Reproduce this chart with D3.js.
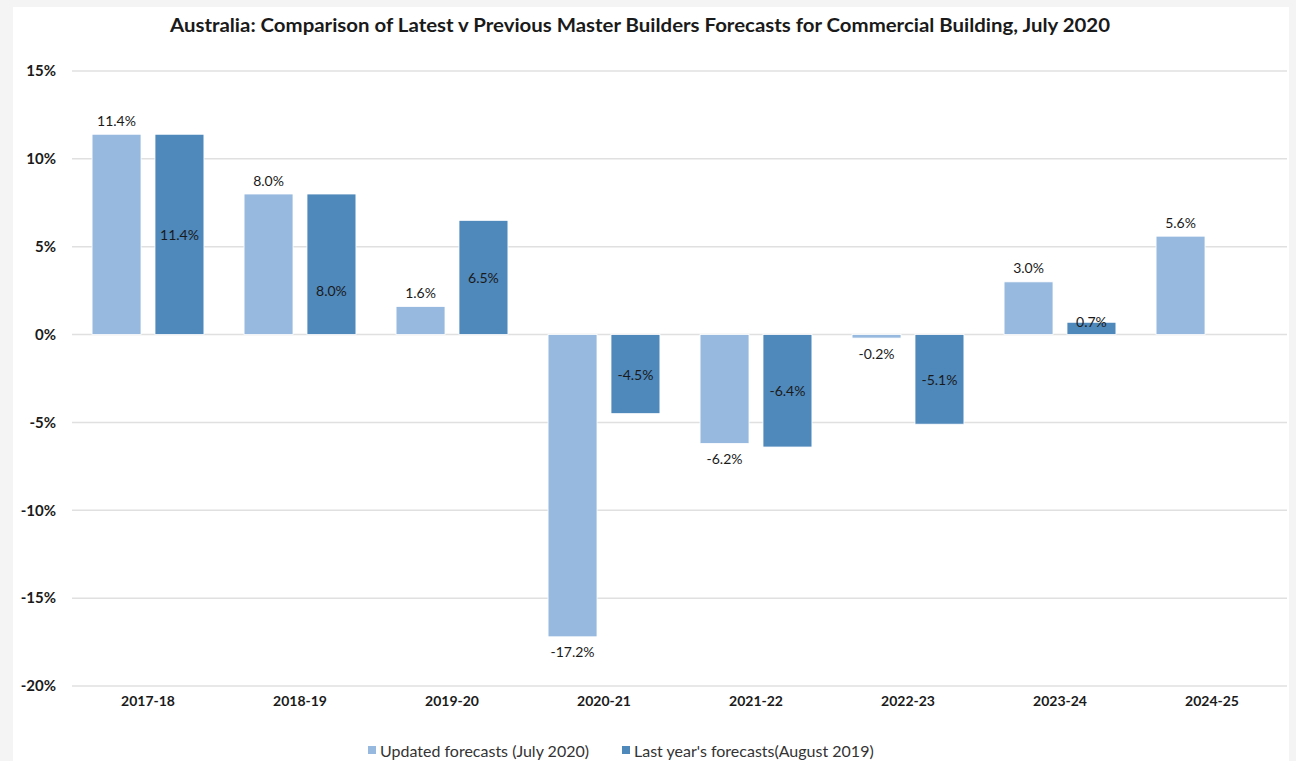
<!DOCTYPE html>
<html><head><meta charset="utf-8">
<script src="https://cdn.jsdelivr.net/npm/d3@7"></script>
<style>
html,body{margin:0;padding:0;background:#f4f4f4;}
svg{display:block;}
</style></head>
<body>
<svg id="chart" width="1296" height="761"></svg>
<script>
const categories = ["2017-18","2018-19","2019-20","2020-21","2021-22","2022-23","2023-24","2024-25"];
const updated = [11.4, 8.0, 1.6, -17.2, -6.2, -0.2, 3.0, 5.6];
const lastYear = [11.4, 8.0, 6.5, -4.5, -6.4, -5.1, 0.7, null];
const yTicks = [15, 10, 5, 0, -5, -10, -15, -20];
const seriesNames = ["Updated forecasts (July 2020)", "Last year's forecasts(August 2019)"];
const title = "Australia: Comparison of Latest v Previous Master Builders Forecasts for Commercial Building, July 2020";

const colors = ["#97b9df", "#4f88bb"];
const font = "Lato, 'Open Sans', sans-serif";

const svg = d3.select("#chart");
svg.append("rect").attr("x",13).attr("y",7).attr("width",1276).attr("height",754).attr("fill","#fff");

const x = d3.scaleBand().domain(categories).range([72, 1288]);
const y = d3.scaleLinear().domain([-20, 15]).range([686, 71]);

// gridlines
svg.append("g").selectAll("line").data(yTicks).join("line")
  .attr("x1", 72).attr("x2", 1287)
  .attr("y1", d => y(d)).attr("y2", d => y(d))
  .attr("stroke", "#e0e0e0").attr("stroke-width", 1.5);

// y axis labels
const yAxis = d3.axisLeft(y).tickValues(yTicks).tickFormat(d => d + "%").tickSize(0).tickPadding(0);
const ya = svg.append("g").attr("transform", "translate(56,0)").call(yAxis);
ya.select(".domain").remove();
ya.selectAll("text").attr("font-family", font).attr("font-weight", "bold").attr("font-size", 15).attr("fill", "#1a1a1a");

// x axis labels
const xAxis = d3.axisBottom(x).tickSize(0).tickPadding(0);
const xa = svg.append("g").attr("transform", "translate(0,696)").call(xAxis);
xa.select(".domain").remove();
xa.selectAll("text").attr("font-family", font).attr("font-weight", "bold").attr("font-size", 14).attr("fill", "#1a1a1a");

const bw = x.bandwidth();
const barW = bw * 0.322;
const gap = bw * 0.092;
const offsets = [-gap/2 - barW, gap/2];

const series = [updated, lastYear];
series.forEach((vals, si) => {
  const data = categories.map((c, i) => ({c, v: vals[i], i})).filter(d => d.v !== null);
  svg.append("g").selectAll("rect").data(data).join("rect")
    .attr("x", d => x(d.c) + bw/2 + offsets[si])
    .attr("width", barW)
    .attr("y", d => y(Math.max(0, d.v)))
    .attr("height", d => Math.abs(y(d.v) - y(0)))
    .attr("fill", colors[si])
    .attr("stroke", "#fff").attr("stroke-width", 0.8);

  const lbl = svg.append("g").selectAll("text").data(data).join("text")
    .attr("x", d => x(d.c) + bw/2 + offsets[si] + barW/2)
    .attr("text-anchor", "middle")
    .attr("dominant-baseline", "central")
    .attr("font-family", font).attr("font-size", 14).attr("fill", "#1a1a1a")
    .text(d => d.v.toFixed(1) + "%");
  if (si === 0) {
    lbl.attr("y", d => d.v >= 0 ? y(d.v) - 14 : y(d.v) + 15);
  } else {
    const nudge = {1: 26, 6: -7};
    lbl.attr("y", d => (y(d.v) + y(0)) / 2 + (nudge[d.i] || 0));
  }
});

// title
svg.append("text").attr("x", 640).attr("y", 24)
  .attr("text-anchor", "middle").attr("dominant-baseline", "central")
  .attr("font-family", font).attr("font-weight", "bold").attr("font-size", 19).attr("fill", "#1a1a1a")
  .attr("textLength", 940).attr("lengthAdjust", "spacingAndGlyphs")
  .text(title);

// legend
const legX = [368, 622];
seriesNames.forEach((n, i) => {
  svg.append("rect").attr("x", legX[i]).attr("y", 746).attr("width", 8).attr("height", 8).attr("fill", colors[i]);
  svg.append("text").attr("x", legX[i] + 12).attr("y", 750)
    .attr("dominant-baseline", "central")
    .attr("font-family", font).attr("font-size", 16).attr("fill", "#333")
    .text(n);
});
</script>
</body></html>
